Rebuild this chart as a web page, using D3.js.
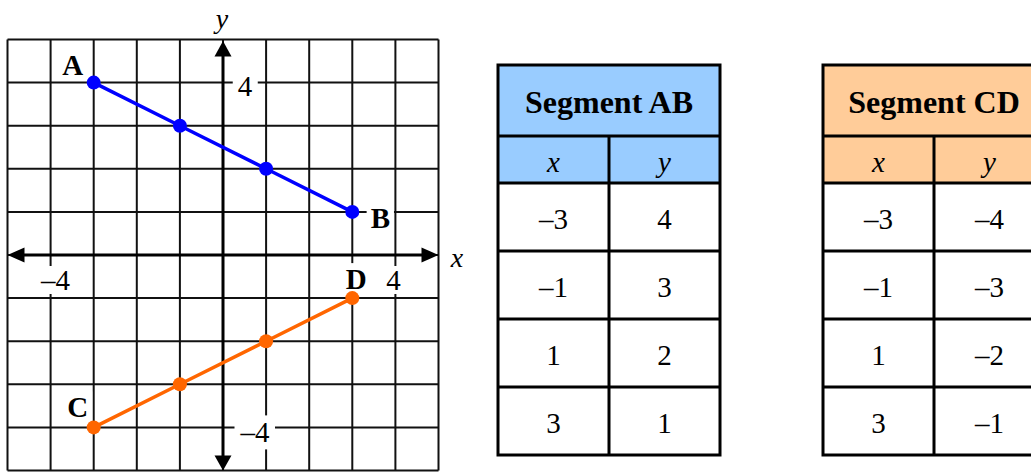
<!DOCTYPE html>
<html>
<head>
<meta charset="utf-8">
<script src="https://cdn.jsdelivr.net/npm/d3@7"></script>
<style>
  html, body { margin: 0; padding: 0; background: #fff; }
  svg { display: block; }
  text { font-family: "Liberation Serif", "Times New Roman", serif; }
</style>
</head>
<body>
<svg id="chart" width="1031" height="472"></svg>
<script>
// ---------- data ----------
const gridValues = [-5, -4, -3, -2, -1, 0, 1, 2, 3, 4, 5];
const xTickLabels = [-4, 4];
const yTickLabels = [4, -4];
const abX = [-3, -1, 1, 3];
const abY = [4, 3, 2, 1];
const cdX = [-3, -1, 1, 3];
const cdY = [-4, -3, -2, -1];
const abLabels = ["A", "B"];
const cdLabels = ["C", "D"];
const tableTitles = ["Segment AB", "Segment CD"];
const columnHeaders = ["x", "y"];

// ---------- setup ----------
const svg = d3.select("#chart");
const x = d3.scaleLinear().domain([-5, 5]).range([7.5, 438.5]);
const y = d3.scaleLinear().domain([-5, 5]).range([470.5, 39.5]);
const fmt = d => d < 0 ? "\u2013" + Math.abs(d) : String(d);
const BLUE = "#0000ff", ORANGE = "#ff6600";

// grid
const grid = svg.append("g");
grid.selectAll("line.v").data(gridValues).join("line")
  .attr("x1", d => x(d)).attr("x2", d => x(d))
  .attr("y1", y(5)).attr("y2", y(-5))
  .attr("stroke", "#111").attr("stroke-width", 2);
grid.selectAll("line.h").data(gridValues).join("line")
  .attr("y1", d => y(d)).attr("y2", d => y(d))
  .attr("x1", x(-5)).attr("x2", x(5))
  .attr("stroke", "#111").attr("stroke-width", 2);

// axes
const ax = svg.append("g");
ax.append("line").attr("x1", x(-5) + 10).attr("x2", x(5) - 10)
  .attr("y1", y(0)).attr("y2", y(0)).attr("stroke", "#000").attr("stroke-width", 3);
ax.append("line").attr("y1", y(5) + 10).attr("y2", y(-5) - 10)
  .attr("x1", x(0)).attr("x2", x(0)).attr("stroke", "#000").attr("stroke-width", 3);
const arrows = [
  [[x(5), y(0)], [x(5) - 17, y(0) - 7.5], [x(5) - 17, y(0) + 7.5]],
  [[x(-5), y(0)], [x(-5) + 17, y(0) - 7.5], [x(-5) + 17, y(0) + 7.5]],
  [[x(0), y(5) + 1.5], [x(0) - 8.5, y(5) + 17], [x(0) + 8.5, y(5) + 17]],
  [[x(0), y(-5)], [x(0) - 8.5, y(-5) - 15], [x(0) + 8.5, y(-5) - 15]]
];
ax.selectAll("path").data(arrows).join("path")
  .attr("d", d => "M" + d.join("L") + "Z").attr("fill", "#000");

// axis titles
svg.append("text").attr("x", x(0) - 1).attr("y", 28).attr("text-anchor", "middle")
  .attr("font-size", 28).attr("font-style", "italic").text("y");
svg.append("text").attr("x", 457).attr("y", 267).attr("text-anchor", "middle")
  .attr("font-size", 28).attr("font-style", "italic").text("x");

// labels with white background (drawn beneath the segments)
const labelLayer = svg.append("g");
function boxedText(tx, ty, txt, opts) {
  const g = labelLayer.append("g");
  const r = g.append("rect").attr("fill", "#fff");
  const t = g.append("text").attr("x", tx).attr("y", ty)
    .attr("text-anchor", "middle")
    .attr("font-size", opts.size)
    .attr("font-weight", opts.bold ? "bold" : "normal")
    .text(txt);
  const b = t.node().getBBox();
  const px = opts.padX ?? 3, py = opts.padY ?? 1;
  r.attr("x", b.x - px).attr("y", b.y - py)
   .attr("width", b.width + 2 * px).attr("height", b.height + 2 * py);
  return g;
}

// tick labels
xTickLabels.forEach(v => {
  boxedText(x(v) + (v < 0 ? 5 : -2), 290, fmt(v), { size: 29, padX: 3, padY: -2 });
});
yTickLabels.forEach(v => {
  boxedText(x(0) + (v < 0 ? 32 : 22), y(v) + (v < 0 ? 15 : 13), fmt(v), { size: 29, padX: 5, padY: 1 });
});

// segments
const line = d3.line().x(d => x(d[0])).y(d => y(d[1]));
const segs = [
  { xs: abX, ys: abY, color: BLUE, labels: abLabels },
  { xs: cdX, ys: cdY, color: ORANGE, labels: cdLabels }
];
const labelPos = {
  A: [-21, -8], B: [28, 16],
  C: [-16, -10], D: [4, -9]
};
segs.forEach(s => {
  const pts = s.xs.map((v, i) => [v, s.ys[i]]);
  const first = pts[0], last = pts[pts.length - 1];
  [first, last].forEach((p, i) => {
    const lab = s.labels[i];
    const off = labelPos[lab];
    boxedText(x(p[0]) + off[0], y(p[1]) + off[1], lab, { size: 29, bold: true, padX: 4, padY: 0 });
  });
});
segs.forEach(s => {
  const pts = s.xs.map((v, i) => [v, s.ys[i]]);
  svg.append("path").datum(pts).attr("d", line)
    .attr("fill", "none").attr("stroke", s.color).attr("stroke-width", 3.5);
  svg.selectAll(null).data(pts).join("circle")
    .attr("cx", d => x(d[0])).attr("cy", d => y(d[1])).attr("r", 7)
    .attr("fill", s.color);
});

// ---------- tables ----------
const tables = [
  { left: 498, title: tableTitles[0], fill: "#99ccff", xs: abX, ys: abY },
  { left: 823, title: tableTitles[1], fill: "#ffcc99", xs: cdX, ys: cdY }
];
const tableWidth = 222;
const top0 = 65, titleH = 71, headH = 47, rowH = 68;
const rowIdx = d3.range(abX.length);
const rowScale = d3.scaleLinear().domain([0, abX.length]).range([top0 + titleH + headH, top0 + titleH + headH + rowH * abX.length]);

tables.forEach(t => {
  const g = svg.append("g");
  const colX = d3.scaleBand().domain(columnHeaders).range([t.left, t.left + tableWidth]);
  const bottom = rowScale(abX.length);
  g.append("rect").attr("x", t.left).attr("y", top0).attr("width", tableWidth)
    .attr("height", titleH + headH).attr("fill", t.fill);
  g.append("rect").attr("x", t.left).attr("y", top0).attr("width", tableWidth)
    .attr("height", bottom - top0).attr("fill", "none")
    .attr("stroke", "#000").attr("stroke-width", 3);
  const hs = [top0 + titleH].concat(rowIdx.map(i => rowScale(i)));
  g.selectAll("line.h").data(hs).join("line")
    .attr("x1", t.left).attr("x2", t.left + tableWidth)
    .attr("y1", d => d).attr("y2", d => d)
    .attr("stroke", "#000").attr("stroke-width", 3);
  g.append("line").attr("x1", colX("y")).attr("x2", colX("y"))
    .attr("y1", top0 + titleH).attr("y2", bottom)
    .attr("stroke", "#000").attr("stroke-width", 3);
  g.append("text").attr("x", t.left + tableWidth / 2).attr("y", top0 + 48)
    .attr("text-anchor", "middle").attr("font-size", 32).attr("font-weight", "bold")
    .text(t.title);
  g.selectAll("text.ch").data(columnHeaders).join("text")
    .attr("x", d => colX(d) + colX.bandwidth() / 2).attr("y", top0 + titleH + 36)
    .attr("text-anchor", "middle").attr("font-size", 29).attr("font-style", "italic")
    .text(d => d);
  rowIdx.forEach(i => {
    [["x", t.xs[i]], ["y", t.ys[i]]].forEach(([c, v]) => {
      g.append("text").attr("x", colX(c) + colX.bandwidth() / 2)
        .attr("y", rowScale(i) + 46)
        .attr("text-anchor", "middle").attr("font-size", 29)
        .text(fmt(v));
    });
  });
});
</script>
</body>
</html>
